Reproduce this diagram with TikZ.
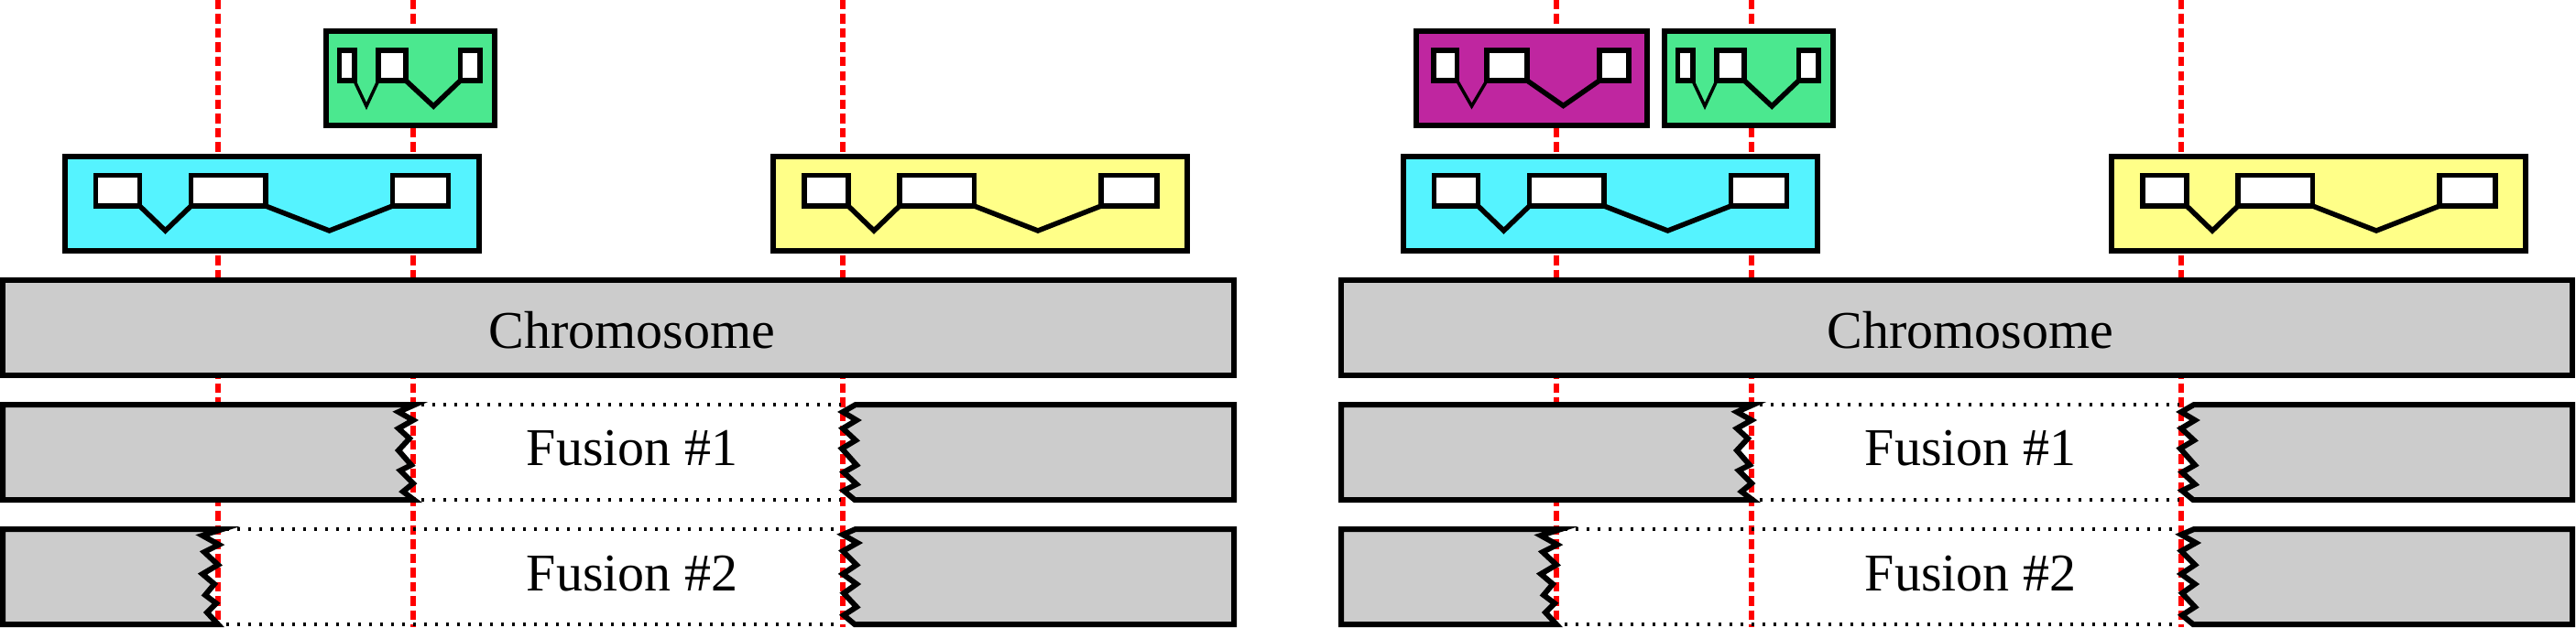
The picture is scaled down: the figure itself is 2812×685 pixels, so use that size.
\documentclass[tikz,border=0pt]{standalone}
\usepackage{fontspec}
\setmainfont{Liberation Serif}
\definecolor{genecyan}{RGB}{85,243,255}
\definecolor{genegreen}{RGB}{75,232,143}
\definecolor{geneyellow}{RGB}{255,255,136}
\definecolor{genemag}{RGB}{191,38,160}
\definecolor{chromgray}{RGB}{204,204,204}
\tikzset{
  boxline/.style={draw=black, line width=6pt},
  exonbox/.style={draw=black, fill=white, line width=5.5pt},
  intronln/.style={draw=black, line width=5.5pt},
  thinintron/.style={draw=black, line width=3.5pt},
  breakline/.style={draw=red, line width=6.5pt, dash pattern=on 10.5pt off 5pt},
  gapline/.style={draw=black, line width=3.2pt, dash pattern=on 3.2pt off 8.8pt},
  lbl/.style={font=\fontsize{58}{70}\selectfont, inner sep=0pt, anchor=base},
}
% big gene (cyan / yellow)
\newcommand\biggene[3]{%
\begin{scope}[shift={(#1,#2)}]
  \filldraw[boxline, fill=#3] (0,0) rectangle (452,103);
  \draw[exonbox] (34,21) rectangle (82,54.5);
  \draw[exonbox] (138,21) rectangle (219.5,54.5);
  \draw[exonbox] (358,21) rectangle (419,54.5);
  \draw[intronln] (82,54.5) -- (110,81.5) -- (138,54.5);
  \draw[intronln] (219.5,54.5) -- (289,81.5) -- (358,54.5);
\end{scope}}
% small green gene
\newcommand\greengene[2]{%
\begin{scope}[shift={(#1,#2)}]
  \filldraw[boxline, fill=genegreen] (0,0) rectangle (184,102.5);
  \draw[exonbox] (15,20.5) rectangle (31.3,53.5);
  \draw[exonbox] (57.5,20.5) rectangle (87.5,53.5);
  \draw[exonbox] (147,20.5) rectangle (168.5,53.5);
  \draw[thinintron] (31.3,53.5) -- (44.5,81.5) -- (57.5,53.5);
  \draw[intronln] (87.5,53.5) -- (117.7,81.5) -- (147,53.5);
\end{scope}}
% magenta gene
\newcommand\magentagene[2]{%
\begin{scope}[shift={(#1,#2)}]
  \filldraw[boxline, fill=genemag] (0,0) rectangle (252,102.5);
  \draw[exonbox] (19.5,20.5) rectangle (45,53.5);
  \draw[exonbox] (77.5,20.5) rectangle (121.5,53.5);
  \draw[exonbox] (200.5,20.5) rectangle (232.5,53.5);
  \draw[thinintron] (45,53.5) -- (61,81.5) -- (77.5,53.5);
  \draw[intronln] (121.5,53.5) -- (161,81) -- (200.5,53.5);
\end{scope}}
% left pieces of fusions (#1 left x, #2 break x, #3 top y)
\newcommand\lpieceA[3]{%
\begin{scope}[shift={(#2,#3)}]
  \filldraw[boxline, fill=chromgray] ({#1-#2},0) -- (2,0) -- (-16,8) -- (0,17) -- (-16,26) -- (-4,37) -- (-16,50) -- (-2,66) -- (-14,72) -- (0,86) -- (-11,95) -- (1,104) -- ({#1-#2},104) -- cycle;
\end{scope}}
\newcommand\lpieceB[3]{%
\begin{scope}[shift={(#2,#3)}]
  \filldraw[boxline, fill=chromgray] ({#1-#2},0) -- (5,0) -- (-17,7) -- (1,17) -- (-15,25) -- (0,39) -- (-17,49) -- (-4,60) -- (-14,72) -- (-2,81) -- (-12,91) -- (0,104) -- ({#1-#2},104) -- cycle;
\end{scope}}
% right pieces of fusions (#1 right x, #2 break x, #3 top y)
\newcommand\rpieceA[3]{%
\begin{scope}[shift={(#2,#3)}]
  \filldraw[boxline, fill=chromgray] ({#1-#2},0) -- (14,0) -- (0,8) -- (15,17) -- (0,26) -- (14,39) -- (-1,48) -- (15,66) -- (1,74) -- (15,87) -- (1,94) -- (13,104) -- ({#1-#2},104) -- cycle;
\end{scope}}
\newcommand\rpieceB[3]{%
\begin{scope}[shift={(#2,#3)}]
  \filldraw[boxline, fill=chromgray] ({#1-#2},0) -- (14,0) -- (0,6) -- (16,15) -- (0,24) -- (15,39) -- (0,49) -- (15,60) -- (1,70) -- (15,85) -- (1,94) -- (13,104) -- ({#1-#2},104) -- cycle;
\end{scope}}

\begin{document}
\begin{tikzpicture}[x=1pt, y=-1pt]
  \useasboundingbox (0,0) rectangle (2812,685);

  % breakpoint lines
  \foreach \bx in {238,451,920,1699,1912,2381}
    \draw[breakline] (\bx,0) -- (\bx,685);

  % ---------- left panel ----------
  \greengene{355.5}{34.5}
  \biggene{70.5}{170.5}{genecyan}
  \biggene{844}{170.5}{geneyellow}
  \filldraw[boxline, fill=chromgray] (3,306) rectangle (1347,409.5);
  \node[lbl] (chrL) at (690,380) {Chromosome};

  \lpieceA{3}{451}{442}
  \rpieceA{1347}{920}{442}
  \draw[gapline] (460,442) -- (918,442);
  \draw[gapline] (460,546) -- (918,546);
  \node[lbl] (fusAL) at (690,508) {Fusion \#1};

  \lpieceB{3}{238}{578}
  \rpieceB{1347}{920}{578}
  \draw[gapline] (247,578) -- (918,578);
  \draw[gapline] (247,682) -- (918,682);
  \node[lbl] (fusBL) at (690,645) {Fusion \#2};

  % ---------- right panel ----------
  \magentagene{1545.5}{34.5}
  \greengene{1816.5}{34.5}
  \biggene{1531.5}{170.5}{genecyan}
  \biggene{2305}{170.5}{geneyellow}
  \filldraw[boxline, fill=chromgray] (1464,306) rectangle (2808,409.5);
  \node[lbl] (chrR) at (2151,380) {Chromosome};

  \lpieceA{1464}{1912}{442}
  \rpieceA{2808}{2381}{442}
  \draw[gapline] (1921,442) -- (2379,442);
  \draw[gapline] (1921,546) -- (2379,546);
  \node[lbl] (fusAR) at (2151,508) {Fusion \#1};

  \lpieceB{1464}{1699}{578}
  \rpieceB{2808}{2381}{578}
  \draw[gapline] (1708,578) -- (2379,578);
  \draw[gapline] (1708,682) -- (2379,682);
  \node[lbl] (fusBR) at (2151,645) {Fusion \#2};
\end{tikzpicture}
\end{document}
